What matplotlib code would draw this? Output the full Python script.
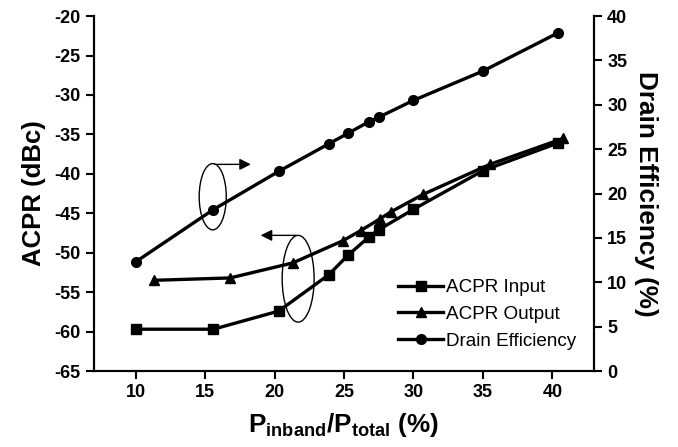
import matplotlib
matplotlib.use("Agg")
import matplotlib.pyplot as plt
from matplotlib.patches import Ellipse

plt.rcParams['font.family'] = ['Liberation Sans', 'DejaVu Sans']
plt.rcParams['mathtext.fontset'] = 'custom'
plt.rcParams['mathtext.rm'] = 'Liberation Sans:bold'
plt.rcParams['mathtext.bf'] = 'Liberation Sans:bold'
plt.rcParams['axes.unicode_minus'] = False

# x positions (P_inband / P_total, %)
x_in = [10.0, 15.6, 20.3, 23.9, 25.3, 26.8, 27.5, 30.0, 35.0, 40.4]
x_out = [11.3, 16.8, 21.3, 24.9, 26.2, 27.6, 28.4, 30.7, 35.5, 40.8]

acpr_input = [-59.7, -59.7, -57.4, -52.8, -50.3, -48.0, -47.1, -44.5, -39.6, -36.1]
acpr_output = [-53.5, -53.2, -51.3, -48.5, -47.2, -45.7, -44.8, -42.6, -38.8, -35.5]
drain_eff = [12.3, 18.2, 22.5, 25.6, 26.8, 28.1, 28.6, 30.5, 33.8, 38.1]

left_ticks = list(range(-65, -19, 5))
right_ticks = list(range(0, 41, 5))
x_ticks = [10, 15, 20, 25, 30, 35, 40]

fig = plt.figure(figsize=(6.78, 4.47), dpi=100)
ax = fig.add_axes([0.1386, 0.170, 0.7375, 0.794])
ax2 = ax.twinx()

lw = 2.4
l1, = ax.plot(x_in, acpr_input, color='black', lw=lw, marker='s', ms=6.5, label='ACPR Input')
l2, = ax.plot(x_out, acpr_output, color='black', lw=lw, marker='^', ms=7.5, label='ACPR Output')
l3, = ax2.plot(x_in, drain_eff, color='black', lw=lw, marker='o', ms=7, label='Drain Efficiency')

ax.set_xlim(7, 43)
ax.set_ylim(-65, -20)
ax2.set_ylim(0, 40)
ax.set_xticks(x_ticks)
ax.set_yticks(left_ticks)
ax2.set_yticks(right_ticks)

for a in (ax, ax2):
    a.spines['top'].set_visible(False)
    for s in a.spines.values():
        s.set_linewidth(1.5)
    a.tick_params(direction='out', length=6, width=1.5, labelsize=13)
    for lab in a.get_xticklabels() + a.get_yticklabels():
        lab.set_fontweight('bold')

ax.set_ylabel('ACPR (dBc)', fontsize=18.5, fontweight='bold', labelpad=6)
ax2.set_ylabel('Drain Efficiency (%)', fontsize=18.8, fontweight='bold', rotation=270, labelpad=22)
ax.set_xlabel(r'P$_{\mathrm{inband}}$/P$_{\mathrm{total}}$ (%)', fontsize=18.8, fontweight='bold', labelpad=7)

# annotation ellipses and arrows
ax.add_patch(Ellipse((15.55, -42.9), 1.95, 8.4, fill=False, lw=1.0, color='black'))
ax.annotate('', xy=(18.5, -38.8), xytext=(15.5, -38.8),
            arrowprops=dict(arrowstyle='-|>', color='black', lw=1.0, mutation_scale=17))
ax.add_patch(Ellipse((21.7, -53.3), 2.3, 11.0, fill=False, lw=1.0, color='black'))
ax.annotate('', xy=(18.8, -47.8), xytext=(21.75, -47.8),
            arrowprops=dict(arrowstyle='-|>', color='black', lw=1.0, mutation_scale=17))

leg = ax.legend(handles=[l1, l2, l3], loc='upper left',
                bbox_to_anchor=(398 / 678, 1 - 279 / 447), bbox_transform=fig.transFigure,
                frameon=False, fontsize=13.6, handlelength=2.4, handletextpad=0.15,
                labelspacing=0.5, borderpad=0, borderaxespad=0)

fig.savefig('out.png', dpi=100)
